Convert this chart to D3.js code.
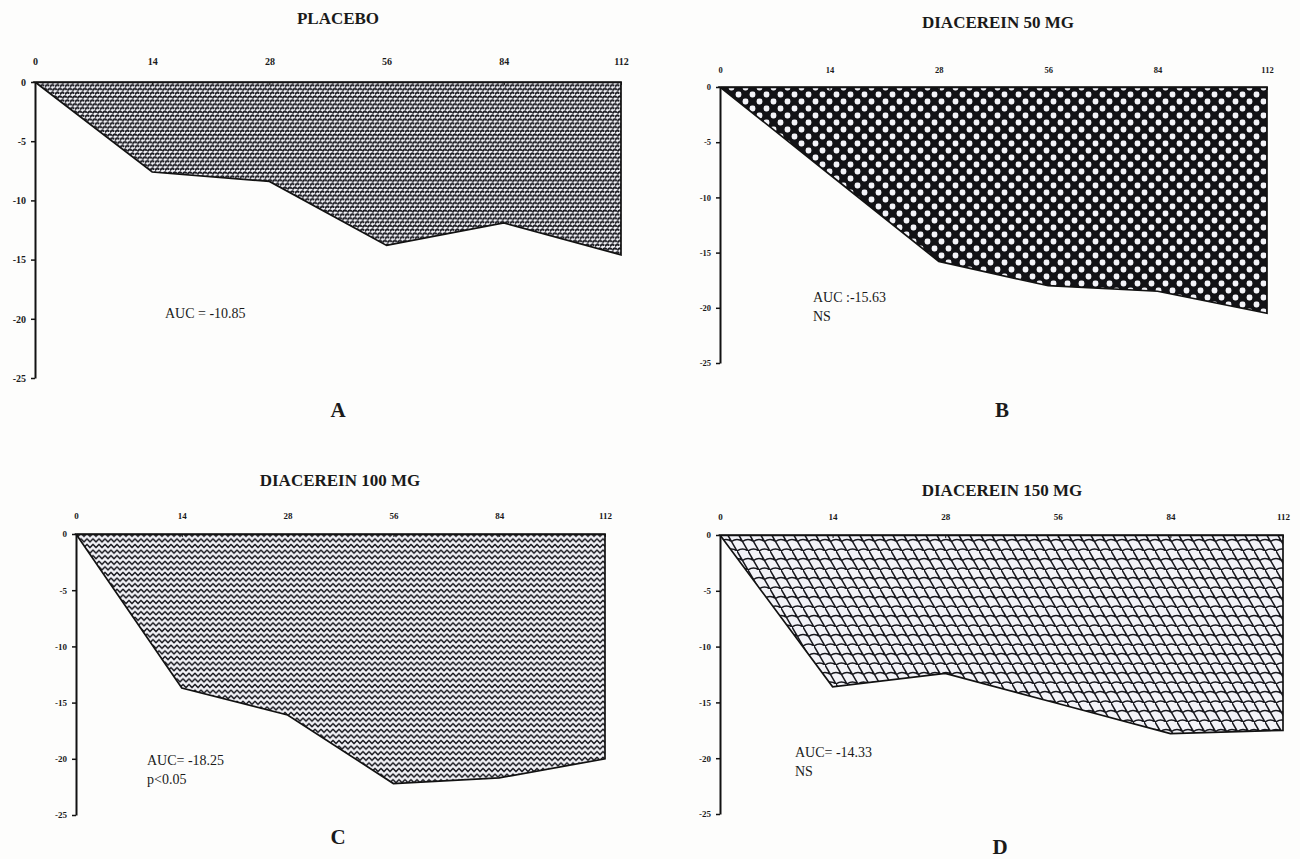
<!DOCTYPE html>
<html>
<head>
<meta charset="utf-8">
<script src="https://cdn.jsdelivr.net/npm/d3@7/dist/d3.min.js"></script>
<style>
  html, body { margin: 0; padding: 0; background: #fdfdfc; }
  svg { display: block; }
  text { font-family: "Liberation Serif", "Times New Roman", serif; fill: #1a1a1a; }
</style>
</head>
<body>
<svg id="chart" width="1300" height="859"></svg>
<script>
// Study days (evenly spaced on the axis) and change-from-baseline values
const days = ["0", "14", "28", "56", "84", "112"];
const yTicks = [0, -5, -10, -15, -20, -25];

const placebo      = [0, -7.6, -8.4, -13.8, -11.9, -14.6];
const diacerein50  = [0, -7.9, -15.8, -18.0, -18.5, -20.5];
const diacerein100 = [0, -13.7, -16.1, -22.2, -21.7, -20.0];
const diacerein150 = [0, -13.6, -12.4, -15.1, -17.8, -17.5];

const titles = ["PLACEBO", "DIACEREIN 50 MG", "DIACEREIN 100 MG", "DIACEREIN 150 MG"];
const letters = ["A", "B", "C", "D"];
const notes = [
  ["AUC = -10.85"],
  ["AUC :-15.63", "NS"],
  ["AUC= -18.25", "p<0.05"],
  ["AUC= -14.33", "NS"]
];
const seriesList = [placebo, diacerein50, diacerein100, diacerein150];

// Panel geometry
const frames = [
  { x0: 35,  x1: 621,  y0: 82,  y1: 378, titleX: 338,  titleY: 24,  tickFs: 10,  tickPad: 17, letterX: 338,  letterY: 417, noteX: 165, noteY: 318, pat: "patPlacebo" },
  { x0: 720, x1: 1267, y0: 87,  y1: 363, titleX: 998,  titleY: 28,  tickFs: 8.5, tickPad: 14, letterX: 1002, letterY: 417, noteX: 813, noteY: 302, pat: "pat50" },
  { x0: 76,  x1: 605,  y0: 534, y1: 815, titleX: 340,  titleY: 486, tickFs: 9,   tickPad: 15, letterX: 338,  letterY: 844, noteX: 147, noteY: 765, pat: "pat100" },
  { x0: 720, x1: 1283, y0: 535, y1: 814, titleX: 1002, titleY: 496, tickFs: 9,   tickPad: 15, letterX: 1000, letterY: 854, noteX: 795, noteY: 757, pat: "pat150" }
];

const svg = d3.select("#chart");
const defs = svg.append("defs");
const INK = "#17171d";
const PAPER = "#f3f3f8";

// Fill textures
const pPl = defs.append("pattern").attr("id", "patPlacebo")
  .attr("patternUnits", "userSpaceOnUse").attr("width", 5).attr("height", 7.6);
pPl.append("rect").attr("width", 5).attr("height", 7.6).attr("fill", PAPER);
pPl.append("path")
  .attr("d", "M0.5,2.6 Q1.8,0.6 3.6,1.8 M3,6.4 Q4.3,4.4 6.1,5.6 M-2,6.4 Q-0.7,4.4 1.1,5.6")
  .attr("fill", "none").attr("stroke", INK).attr("stroke-width", 2).attr("stroke-linecap", "round");

const p50 = defs.append("pattern").attr("id", "pat50")
  .attr("patternUnits", "userSpaceOnUse").attr("width", 14).attr("height", 14);
p50.append("rect").attr("width", 14).attr("height", 14).attr("fill", "#121216");
p50.append("rect").attr("x", 0.6).attr("y", 0.6).attr("width", 5.8).attr("height", 5.8).attr("rx", 2.3).attr("fill", PAPER);
p50.append("rect").attr("x", 7.6).attr("y", 7.6).attr("width", 5.8).attr("height", 5.8).attr("rx", 2.3).attr("fill", PAPER);

const p100 = defs.append("pattern").attr("id", "pat100")
  .attr("patternUnits", "userSpaceOnUse").attr("width", 6).attr("height", 5.6);
p100.append("rect").attr("width", 6).attr("height", 5.6).attr("fill", PAPER);
p100.append("path")
  .attr("d", "M-1.5,2.8 L0,4.4 L3,1.2 L6,4.4 L7.5,2.8")
  .attr("fill", "none").attr("stroke", INK).attr("stroke-width", 1.5).attr("stroke-linejoin", "round");

const p150 = defs.append("pattern").attr("id", "pat150")
  .attr("patternUnits", "userSpaceOnUse").attr("width", 11).attr("height", 19);
p150.append("rect").attr("width", 11).attr("height", 19).attr("fill", PAPER);
p150.append("path")
  .attr("d", "M0,0 L11,19 M-5.5,-9.5 L5.5,9.5 M0,19 Q5.5,15 11,19 M5.5,9.5 Q11,5.5 16.5,9.5 M-5.5,9.5 Q0,5.5 5.5,9.5")
  .attr("fill", "none").attr("stroke", INK).attr("stroke-width", 1.5).attr("stroke-linecap", "round");

frames.forEach((f, i) => {
  const values = seriesList[i];
  const data = days.map((d, k) => ({ day: d, value: values[k] }));

  const x = d3.scalePoint().domain(days).range([f.x0, f.x1]);
  const y = d3.scaleLinear().domain([0, -25]).range([f.y0, f.y1]);

  const g = svg.append("g");

  // Title
  g.append("text")
    .attr("x", f.titleX).attr("y", f.titleY)
    .attr("text-anchor", "middle")
    .attr("font-size", 17).attr("font-weight", "bold")
    .text(titles[i]);

  // Patterned area between the baseline and the curve
  const area = d3.area()
    .x(d => x(d.day))
    .y0(y(0))
    .y1(d => y(d.value));

  g.append("path")
    .datum(data)
    .attr("d", area)
    .attr("fill", `url(#${f.pat})`)
    .attr("stroke", "#121212")
    .attr("stroke-width", 1.7)
    .attr("stroke-linejoin", "miter");

  // Top axis with day labels
  const xAxis = d3.axisTop(x).tickSize(-3).tickSizeOuter(0).tickPadding(f.tickPad);
  const gx = g.append("g").attr("transform", `translate(0,${f.y0})`).call(xAxis);
  gx.select(".domain").attr("stroke", "#121212").attr("stroke-width", 1.7);
  gx.selectAll(".tick line").attr("stroke", "#121212").attr("stroke-width", 1);
  gx.selectAll(".tick text")
    .attr("font-family", "Liberation Serif, serif")
    .attr("font-weight", "bold").attr("font-size", f.tickFs).attr("fill", "#1a1a1a");

  // Left axis
  const yAxis = d3.axisLeft(y).tickValues(yTicks).tickSize(4).tickSizeOuter(0).tickPadding(5)
    .tickFormat(d => String(d));
  const gy = g.append("g").attr("transform", `translate(${f.x0},0)`).call(yAxis);
  gy.select(".domain").attr("stroke", "#121212").attr("stroke-width", 2);
  gy.selectAll(".tick line").attr("stroke", "#121212").attr("stroke-width", 1.5);
  gy.selectAll(".tick text")
    .attr("font-family", "Liberation Serif, serif")
    .attr("font-weight", "bold").attr("font-size", f.tickFs).attr("fill", "#1a1a1a");

  // AUC annotation
  notes[i].forEach((line, k) => {
    g.append("text")
      .attr("x", f.noteX).attr("y", f.noteY + k * 19)
      .attr("font-size", 14)
      .text(line);
  });

  // Panel letter
  g.append("text")
    .attr("x", f.letterX).attr("y", f.letterY)
    .attr("text-anchor", "middle")
    .attr("font-size", 21).attr("font-weight", "bold")
    .text(letters[i]);
});
</script>
</body>
</html>
